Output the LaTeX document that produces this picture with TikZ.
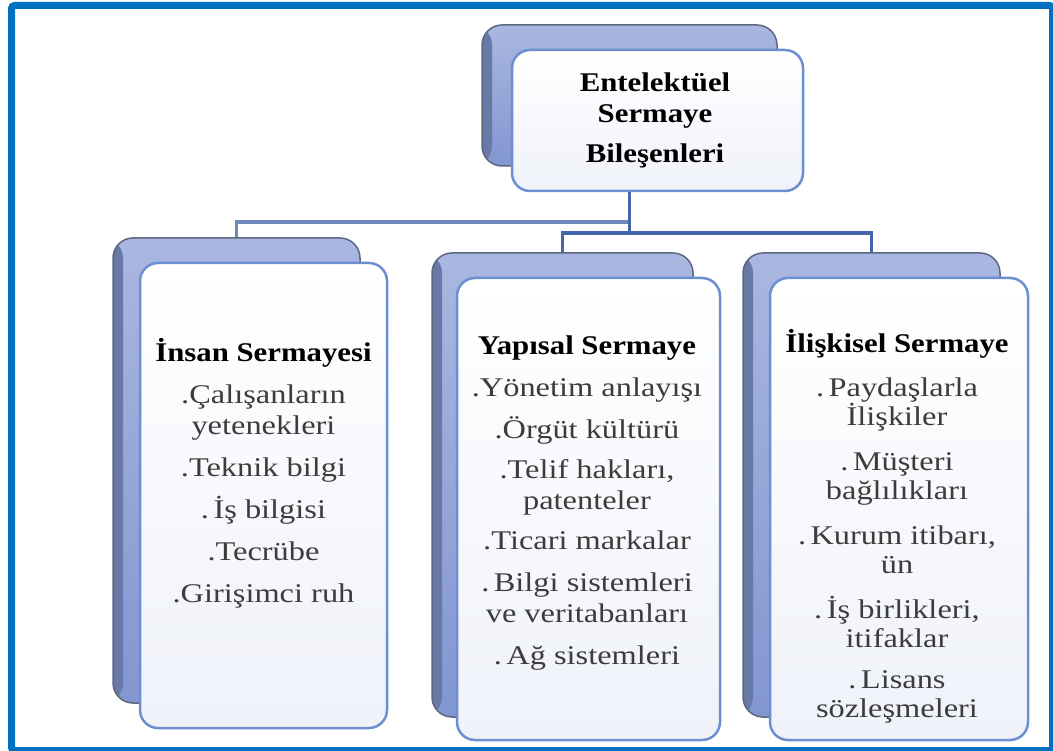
\documentclass[tikz,border=0pt]{standalone}
\usepackage{fontspec}
\setmainfont[FakeStretch=1.14]{Liberation Serif}
\newfontfamily\itemfont[FakeStretch=1.2]{Liberation Serif}
\usetikzlibrary{positioning}

\definecolor{frameblue}{HTML}{0070C0}
\definecolor{backtop}{HTML}{A9B7E0}
\definecolor{backbot}{HTML}{8296D0}
\definecolor{backedge}{HTML}{5D6780}
\definecolor{bevel}{HTML}{6777A6}
\definecolor{frontedge}{HTML}{6C8FD2}
\definecolor{frontbot}{HTML}{EFF2F9}
\definecolor{connblue}{HTML}{4466AC}
\definecolor{connlight}{HTML}{7089BA}
\definecolor{itemgray}{HTML}{3C3C3C}

\tikzset{
  backbox/.style={
    rectangle, rounded corners=20pt, inner sep=0pt,
    top color=backtop, bottom color=backbot,
    draw=backedge, line width=1.5pt,
    path picture={
      \shade[left color=bevel, right color=backbot!60!backtop]
        (path picture bounding box.north west) rectangle
        ([xshift=10pt]path picture bounding box.south west);
    }
  },
  frontbox/.style={
    rectangle, rounded corners=18pt, inner sep=0pt,
    top color=white, bottom color=frontbot,
    draw=frontedge, line width=2.5pt
  },
  conn/.style={draw=connblue, line width=3.5pt},
  connl/.style={draw=connlight, line width=3.5pt},
  headtext/.style={font=\fontsize{27}{31}\selectfont\bfseries, align=center, text=black, inner sep=0pt},
  bodytext/.style={font=\fontsize{27}{31}\selectfont\itemfont, align=center, text=itemgray, inner sep=0pt},
}
\newcommand{\hd}[1]{\textcolor{black}{\rmfamily\bfseries #1}}

\begin{document}
\begin{tikzpicture}[x=1pt, y=-1pt]
  \useasboundingbox (0,0) rectangle (1053,751);
  \fill[white] (0,0) rectangle (1053,751);

  % outer frame
  \draw[frameblue, line width=7pt, rounded corners=3pt] (11.5,5.5) rectangle (1052.5,750.5);

  % back (shadow) panels
  \node[backbox, minimum width=295pt, minimum height=141pt] (topback) at (629.5,95.5) {};
  \node[backbox, minimum width=247pt, minimum height=465pt] (lback) at (236.5,470.5) {};
  \node[backbox, minimum width=261pt, minimum height=464pt] (mback) at (562.5,485) {};
  \node[backbox, minimum width=257pt, minimum height=464pt] (rback) at (871.5,485) {};

  % connectors
  \coordinate (jl) at (topback.south |- 0,222);
  \coordinate (jr) at (topback.south |- 0,233);
  \draw[connl] (jl) -| (lback.north);
  \draw[conn] (jr) -| (mback.north);
  \draw[conn] (jr) -| (rback.north);
  \draw[conn] (topback.south) -- (jr);

  % front panels
  \node[frontbox, minimum width=291pt, minimum height=141pt] (topfront) at (657.5,120.5) {};
  \node[frontbox, minimum width=247pt, minimum height=465pt] (lfront) at (263.5,495.5) {};
  \node[frontbox, minimum width=263pt, minimum height=462pt] (mfront) at (588.5,509) {};
  \node[frontbox, minimum width=258pt, minimum height=462pt] (rfront) at (899,509) {};

  % texts
  \node[headtext] (toptext) at (655,120) {Entelektüel\\Sermaye\\[9pt]Bileşenleri};

  \node[bodytext] (ltext) at (263.5,473) {%
    \hd{İnsan Sermayesi}\\[11pt]
    .Çalışanların\\yetenekleri\\[11pt]
    .Teknik bilgi\\[11pt]
    .\,İş bilgisi\\[11pt]
    .Tecrübe\\[11pt]
    .Girişimci ruh};

  \node[bodytext] (mtext) at (587,503) {%
    \hd{Yapısal Sermaye}\\[11pt]
    .Yönetim anlayışı\\[11pt]
    .Örgüt kültürü\\[9pt]
    .Telif hakları,\\patenteler\\[9pt]
    .Ticari markalar\\[11pt]
    .\,Bilgi sistemleri\\ve veritabanları\\[11pt]
    .\,Ağ sistemleri};

  \node[bodytext, font=\fontsize{27}{29}\selectfont\itemfont] (rtext) at (897,526) {%
    \hd{İlişkisel Sermaye}\\[15pt]
    .\,Paydaşlarla\\İlişkiler\\[16pt]
    .\,Müşteri\\bağlılıkları\\[16pt]
    .\,Kurum itibarı,\\ün\\[16pt]
    .\,İş birlikleri,\\itifaklar\\[12pt]
    .\,Lisans\\sözleşmeleri};
\end{tikzpicture}
\end{document}
